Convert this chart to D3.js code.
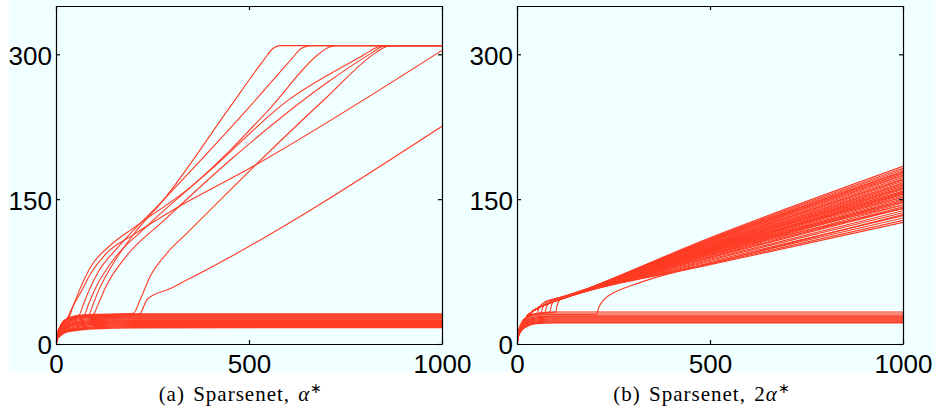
<!DOCTYPE html>
<html>
<head>
<meta charset="utf-8">
<style>
body { margin: 0; padding: 0; background: white; overflow: hidden; }
.axis path, .axis line { stroke: black; stroke-width: 1.2px; fill: none; }
.axis text { font: 26px "Liberation Sans", Arial, sans-serif; fill: black; }
.caption { font: 21px "Liberation Serif", serif; fill: black; letter-spacing: 1px; word-spacing: 2px; }
.trace { fill: none; stroke: #ff3b24; stroke-width: 1.1px; }
</style>
</head>
<body>
<script src="https://d3js.org/d3.v7.min.js"></script>
<script>
// ---- data ----
var xTicks = [0, 500, 1000];
var yTicks = [0, 150, 300];

// (a) bottom band: shared x positions, one row of y values per line
var bandAX = [0, 3, 10, 25, 50, 100, 200, 1000];
var bandA = [
    [0, 9, 17, 25, 29, 30.5, 31, 31],
    [0, 8.5, 16, 23.5, 28, 29.5, 30, 30],
    [0, 8, 15, 22, 26.5, 28.5, 29, 29],
    [0, 7.5, 14, 21, 25.5, 27.5, 28, 28],
    [0, 7, 13, 20, 24.5, 26.5, 27, 27],
    [0, 7, 12.5, 19, 23, 25.5, 26, 26],
    [0, 6.5, 12, 18, 22, 24.5, 25, 25],
    [0, 6.5, 11.5, 17, 21, 23.3, 24, 24],
    [0, 6, 11, 16, 20, 22.3, 23, 23],
    [0, 6, 10.5, 15, 19, 21.3, 22, 22],
    [0, 5.5, 10, 14, 17.5, 20.2, 21, 21],
    [0, 5.5, 9.5, 13.5, 16.5, 19, 20, 20],
    [0, 5, 9, 13, 15.5, 17.8, 19, 19],
    [0, 5, 8.5, 12.5, 14.8, 16.8, 17.8, 18],
    [0, 5, 8, 12, 14, 15.8, 16.8, 17]
];

// (a) lines that leave the band
var escA = [
    [[0, 0], [3, 9], [10, 17], [20, 22], [28, 26], [45, 40], [62, 52], [90, 73], [131, 94], [200, 113], [300, 138], [511, 184], [1000, 304]],
    [[0, 0], [3, 9], [10, 17], [25, 25], [34, 28], [45, 40], [60, 55], [90, 80], [140, 102], [200, 120], [350, 163], [550, 242], [680, 300], [705, 307], [725, 309], [1000, 309]],
    [[0, 0], [3, 9], [10, 17], [25, 25], [60, 30], [70, 40], [85, 55], [110, 75], [160, 100], [278, 149], [500, 245], [610, 295], [635, 306], [660, 309], [1000, 309]],
    [[0, 0], [3, 9], [10, 17], [25, 25], [73, 30], [85, 42], [105, 60], [150, 88], [230, 120], [400, 180], [600, 252], [800, 300], [830, 307], [850, 309], [1000, 309]],
    [[0, 0], [3, 9], [10, 17], [25, 25], [85, 30], [95, 40], [110, 55], [140, 78], [200, 113], [278, 149], [450, 245], [540, 295], [562, 306], [580, 309], [1000, 309]],
    [[0, 0], [3, 9], [10, 17], [25, 25], [96, 30], [108, 40], [130, 60], [180, 90], [280, 128], [450, 190], [700, 270], [820, 302], [845, 308], [865, 309], [1000, 309]],
    [[0, 0], [3, 9], [10, 17], [25, 25], [100, 30], [200, 31.7], [217.6, 45.5], [243.5, 69.6], [287, 93.8], [338.6, 114.5], [511, 183], [700, 255], [830, 302], [857, 308], [880, 309], [1000, 309]],
    [[0, 0], [3, 9], [10, 17], [25, 25], [100, 30], [205, 30.5], [217.6, 31.7], [235, 45.5], [252, 50.7], [287, 55.9], [338.6, 66.2], [1000, 225.5]]
];

// (b) bottom band
var bandBX = [0, 3, 10, 25, 50, 100, 1000];
var bandB = [
    [0, 11, 21, 28, 31.5, 33.5, 33.5],
    [0, 10.5, 20.5, 27.5, 31, 32.5, 32.5],
    [0, 10.5, 20, 27, 30, 31.5, 31.5],
    [0, 10, 19.5, 26.5, 29.5, 30.5, 30.5],
    [0, 10, 19, 25, 28, 29, 29],
    [0, 9.5, 18, 24, 27, 28, 28],
    [0, 9, 17, 23, 26, 27, 27],
    [0, 8.5, 16, 22, 25, 26, 26],
    [0, 8, 15, 21, 24, 25, 25],
    [0, 7.5, 14, 20, 23, 24, 24],
    [0, 7, 13.5, 19, 22, 23, 23],
    [0, 7, 13, 18, 21, 22, 22]
];
var bandBFaint = [true, true, true, true, false, false, false, false, false, false, false, false];

// (b) fan: shared trunk, then value at x = 500 and at x = 1000 for each line
var trunkB = [[0, 0], [4, 10], [12, 20], [25, 28], [45, 35], [75, 41], [110, 46]];
var fanMidB = [110, 109, 108.3, 107.6, 107.1, 106.4, 105.7, 105.2, 104.4, 103.7, 103.2, 102.5, 101.8, 101.3, 100.8, 100.1, 99.4, 98.9, 98.4, 97.7,
    97, 96.5, 96, 95.3, 94.6, 93.8, 93.1, 92.4, 91.7, 90.7, 89.7, 89, 87.8, 86.8, 85.4, 84.2, 83, 82];
var fanEndB = [184, 182, 180.5, 179, 178, 176.5, 175, 174, 172.5, 171, 170, 168.5, 167, 166, 165, 163.5, 162, 161, 160, 158.5,
    157, 156, 155, 153.5, 152, 150.5, 149, 147.5, 146, 144, 142, 140.5, 138, 136, 133, 130.5, 128, 126];

// (b) lines that leave the band late
var lateB = [
    [[0, 0], [4, 11], [12, 20], [25, 27], [45, 31], [52, 32], [58, 38], [70, 43], [110, 48], [500, 100], [1000, 158]],
    [[0, 0], [4, 11], [12, 20], [25, 27], [45, 31], [62, 32], [68, 39], [80, 44], [120, 49], [500, 98], [1000, 152]],
    [[0, 0], [4, 11], [12, 20], [25, 27], [45, 31], [72, 32.5], [77, 39], [90, 45], [130, 50], [500, 96], [1000, 147]],
    [[0, 0], [4, 11], [12, 20], [25, 27], [45, 31], [85, 33], [90, 41], [100, 46], [140, 51], [500, 95], [1000, 144]],
    [[0, 0], [4, 11], [12, 20], [25, 27], [45, 31], [100, 33], [104, 40], [112, 46], [150, 52], [500, 93], [1000, 140]],
    [[0, 0], [4, 11], [12, 20], [25, 27], [45, 30], [100, 30.5], [205, 30.5], [212, 38], [225, 46], [250, 53], [300, 61], [360, 69], [482, 81.5], [1000, 134]]
];

var captionA = ["(a) Sparsenet, ", "\u03b1"];
var captionB = ["(b) Sparsenet, 2", "\u03b1"];

// ---- layout ----
var W = 935, H = 413;
var pw = 386, ph = 338, top0 = 6;

var svg = d3.select("body").append("svg")
    .attr("width", W)
    .attr("height", H);

svg.append("rect")
    .attr("x", 9).attr("y", 0)
    .attr("width", W - 9).attr("height", 372)
    .attr("fill", "#f0ffff");

var x = d3.scaleLinear().domain([0, 1000]).range([0, pw]);
var y = d3.scaleLinear().domain([0, 350]).range([ph, 0]);

var line = d3.line()
    .x(function(d) { return x(d[0]); })
    .y(function(d) { return y(d[1]); })
    .curve(d3.curveMonotoneX);

function rowToPts(xs, ys) {
    return xs.map(function(v, i) { return [v, ys[i]]; });
}

function makePanel(x0, id, caption) {
    var g = svg.append("g").attr("transform", "translate(" + x0 + "," + top0 + ")");
    g.append("clipPath").attr("id", id)
        .append("rect").attr("width", pw).attr("height", ph);
    var plot = g.append("g").attr("clip-path", "url(#" + id + ")");

    svg.append("text")
        .attr("class", "caption")
        .attr("x", x0 + pw / 2 - 8)
        .attr("y", 401)
        .style("text-anchor", "middle")
        .call(function(t) {
            t.append("tspan").text(caption[0]);
            t.append("tspan").style("font-style", "italic").text(caption[1]);
            t.append("tspan").attr("dy", -8).style("font-size", "14px").text("\u2217");
        });
    return { g: g, plot: plot };
}

function drawAxes(g) {
    g.append("g").attr("class", "axis")
        .call(d3.axisLeft(y).tickValues(yTicks).tickSizeInner(-4).tickSizeOuter(0).tickPadding(4).tickFormat(d3.format("d")))
        .selectAll("text").attr("dy", ".38em");
    g.append("g").attr("class", "axis")
        .attr("transform", "translate(" + pw + ",0)")
        .call(d3.axisRight(y).tickValues(yTicks).tickSizeInner(-4).tickSizeOuter(0).tickFormat(""));
    g.append("g").attr("class", "axis")
        .attr("transform", "translate(0," + ph + ")")
        .call(d3.axisBottom(x).tickValues(xTicks).tickSizeInner(-4).tickSizeOuter(0).tickPadding(11).tickFormat(d3.format("d")));
    g.append("g").attr("class", "axis")
        .call(d3.axisTop(x).tickValues(xTicks).tickSizeInner(-4).tickSizeOuter(0).tickFormat(""));
}

// panel (a)
var pa = makePanel(56, "clipA", captionA);
pa.plot.selectAll(".band")
    .data(bandA)
    .enter().append("path")
    .attr("class", "trace")
    .style("stroke-width", "1.4px")
    .attr("d", function(d) { return line(rowToPts(bandAX, d)); });
pa.plot.selectAll(".esc")
    .data(escA)
    .enter().append("path")
    .attr("class", "trace")
    .attr("d", function(d) { return line(d); });
drawAxes(pa.g);

// panel (b)
var pb = makePanel(517, "clipB", captionB);
pb.plot.selectAll(".band")
    .data(bandB)
    .enter().append("path")
    .attr("class", "trace")
    .style("stroke-width", "1.3px")
    .style("opacity", function(d, i) { return bandBFaint[i] ? 0.55 : 1; })
    .attr("d", function(d) { return line(rowToPts(bandBX, d)); });
pb.plot.selectAll(".fan")
    .data(fanEndB)
    .enter().append("path")
    .attr("class", "trace")
    .attr("d", function(d, i) { return line(trunkB.concat([[500, fanMidB[i]], [1000, d]])); });
pb.plot.selectAll(".late")
    .data(lateB)
    .enter().append("path")
    .attr("class", "trace")
    .attr("d", function(d) { return line(d); });
drawAxes(pb.g);
</script>
</body>
</html>
